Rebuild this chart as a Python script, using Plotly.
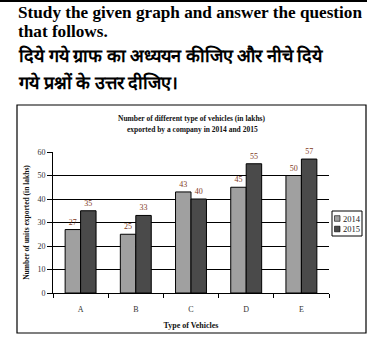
import plotly.graph_objects as go

categories = ["A", "B", "C", "D", "E"]
series_names = ["2014", "2015"]
values_2014 = [27, 25, 43, 45, 50]
values_2015 = [35, 33, 40, 55, 57]
y_ticks = [0, 10, 20, 30, 40, 50, 60]

colors = ["#a0a0a0", "#4a4a4a"]
label_color = "#7f3a1c"
serif = "Liberation Serif, Times New Roman, serif"

W, H = 390, 358
L, R, T, B = 53, 61, 152, 65
PW, PH = W - L - R, H - T - B


def px(x):
    return (x - L) / PW


def py(y):
    return (H - B - y) / PH


fig = go.Figure()
for name, vals, col in zip(series_names, [values_2014, values_2015], colors):
    fig.add_trace(go.Bar(
        x=categories, y=vals, name=name,
        marker=dict(color=col, line=dict(color="black", width=1)),
        text=[str(v) for v in vals], textposition="outside",
        textfont=dict(family=serif, size=8, color=label_color),
        cliponaxis=False, showlegend=False,
    ))

shapes = [
    # chart border
    dict(type="rect", xref="paper", yref="paper", x0=px(17), x1=px(366), y0=py(333), y1=py(105),
         line=dict(color="black", width=1.2), layer="below"),
    # top rule
    dict(type="line", xref="paper", yref="paper", x0=px(0), x1=px(367), y0=py(1), y1=py(1),
         line=dict(color="black", width=2)),
    # legend box
    dict(type="rect", xref="paper", yref="paper", x0=px(332), x1=px(362), y0=py(236), y1=py(211),
         line=dict(color="black", width=1), fillcolor="white"),
]
annotations = []
for i, (name, col) in enumerate(zip(series_names, colors)):
    yc = 218.5 + i * 10.5
    shapes.append(dict(type="rect", xref="paper", yref="paper", x0=px(334.5), x1=px(340),
                       y0=py(yc + 2.8), y1=py(yc - 2.8), line=dict(color="black", width=0.6), fillcolor=col))
    annotations.append(dict(text=name, xref="paper", yref="paper", x=px(340.5), y=py(yc),
                            xanchor="left", yanchor="middle", showarrow=False,
                            font=dict(family=serif, size=8.5, color="#222")))

head = [
    ("<b>Study the given graph and answer the question</b>", 12, 17.2),
    ("<b>that follows.</b>", 31, 17.2),
    ("<b>दिये गये ग्राफ का अध्ययन कीजिए और नीचे दिये</b>", 56, 18),
    ("<b>गये प्रश्नों के उत्तर दीजिए।</b>", 82, 18),
]
for txt, yc, fs in head:
    annotations.append(dict(text=txt, xref="paper", yref="paper", x=px(16), y=py(yc),
                            xanchor="left", yanchor="middle", showarrow=False,
                            font=dict(family=serif, size=fs, color="black")))

annotations.append(dict(text="<b>Number of different type of vehicles (in lakhs)</b>", xref="paper", yref="paper",
                        x=px(192), y=py(118), xanchor="center", yanchor="middle", showarrow=False,
                        font=dict(family=serif, size=7.5, color="#111")))
annotations.append(dict(text="<b>exported by a company in 2014 and 2015</b>", xref="paper", yref="paper",
                        x=px(192), y=py(129), xanchor="center", yanchor="middle", showarrow=False,
                        font=dict(family=serif, size=7.5, color="#111")))

fig.update_layout(
    width=W, height=H,
    margin=dict(l=L, r=R, t=T, b=B, pad=0),
    paper_bgcolor="white", plot_bgcolor="white",
    barmode="group", bargap=0.44, bargroupgap=0,
    font=dict(family=serif, color="#333"),
    shapes=shapes, annotations=annotations,
    xaxis=dict(
        type="category", showline=True, linecolor="black", linewidth=1,
        ticks="outside", tickson="boundaries", ticklen=4, tickcolor="black",
        ticklabelstandoff=8,
        tickfont=dict(family=serif, size=8, color="#333"),
        title=dict(text="<b>Type of Vehicles</b>", font=dict(family=serif, size=8, color="#111"), standoff=9),
        showgrid=False,
    ),
    yaxis=dict(
        range=[0, 60], tickvals=y_ticks, showline=True, linecolor="black", linewidth=1,
        ticks="outside", ticklen=5, tickcolor="black",
        tickfont=dict(family=serif, size=8, color="#333"),
        showgrid=True, gridcolor="black", gridwidth=1, zeroline=False,
        title=dict(text="<b>Number of units exported (in lakhs)</b>", font=dict(family=serif, size=7.5, color="#111"), standoff=6),
    ),
)

fig.write_html("out.html")
